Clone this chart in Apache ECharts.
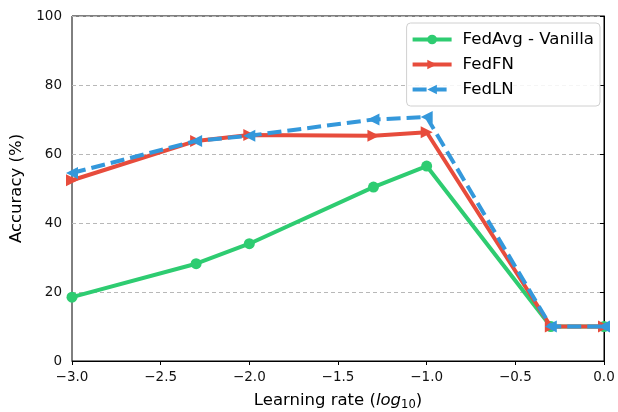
<!DOCTYPE html>
<html>
<head>
<meta charset="utf-8">
<script src="https://cdn.jsdelivr.net/npm/echarts@6/dist/echarts.min.js"></script>
<style>
  html, body { margin: 0; padding: 0; background: #fff; }
  #chart { width: 618px; height: 412px; }
</style>
</head>
<body>
<div id="chart"></div>
<script>
// Learning rates on a log10 scale
const lrLog10 = [-3.0, -2.3, -2.0, -1.3, -1.0, -0.3, 0.0];

// Accuracy (%) per method
const fedAvgVanilla = [18.5, 28.2, 34.0, 50.4, 56.5, 10.0, 10.0];
const fedFN = [52.4, 63.8, 65.5, 65.3, 66.3, 10.0, 10.0];
const fedLN = [54.5, 63.8, 65.3, 70.0, 70.7, 10.0, 10.0];

const seriesNames = ['FedAvg - Vanilla', 'FedFN', 'FedLN'];
const xTicks = [-3.0, -2.5, -2.0, -1.5, -1.0, -0.5, 0.0];
const yTicks = [0, 20, 40, 60, 80, 100];

const font = 'DejaVu Sans';
const pairs = (ys) => lrLog10.map((x, i) => [x, ys[i]]);
const fmtX = (v) => v.toFixed(1).replace('-', '\u2212');

const chart = echarts.init(document.getElementById('chart'), null, { renderer: 'canvas' });
chart.setOption({
  animation: false,
  backgroundColor: '#fff',
  textStyle: { fontFamily: font },
  grid: {
    left: 72, right: 14, top: 16, bottom: 51,
    outerBoundsMode: 'none', containLabel: false,
    show: true, borderColor: '#000', borderWidth: 1, backgroundColor: 'transparent'
  },
  legend: {
    data: seriesNames,
    orient: 'vertical',
    right: 18, top: 23,
    itemWidth: 39, itemHeight: 12, itemGap: 8,
    padding: [8, 6, 8, 4],
    borderColor: '#d0d0d0', borderWidth: 1, borderRadius: 4,
    backgroundColor: 'rgba(255,255,255,0.85)',
    lineStyle: { width: 4 },
    textStyle: { fontFamily: font, fontSize: 16.6, color: '#000', padding: [0, 0, 0, 6] }
  },
  xAxis: {
    type: 'value',
    min: xTicks[0], max: xTicks[xTicks.length - 1], interval: 0.5,
    name: '{n|Learning rate (}{i|log}{s|10}{n|)}',
    nameLocation: 'middle', nameGap: 30,
    nameTextStyle: {
      rich: {
        n: { fontFamily: font, fontSize: 16.5, color: '#000' },
        i: { fontFamily: font, fontSize: 16.5, fontStyle: 'italic', color: '#000' },
        s: { fontFamily: font, fontSize: 11.5, color: '#000', verticalAlign: 'bottom', padding: [8, 0, 0, 0] }
      }
    },
    axisLine: { lineStyle: { color: '#000', width: 1 } },
    axisTick: { show: true, length: 4, inside: false, lineStyle: { color: '#000' } },
    axisLabel: { formatter: fmtX, fontFamily: font, fontSize: 13.5, color: '#111', margin: 9 },
    splitLine: { show: false }
  },
  yAxis: {
    type: 'value',
    min: yTicks[0], max: yTicks[yTicks.length - 1], interval: 20,
    name: 'Accuracy (%)',
    nameLocation: 'middle', nameGap: 44,
    nameTextStyle: { fontFamily: font, fontSize: 16.5, color: '#000' },
    axisLine: { show: true, lineStyle: { color: '#000', width: 1 } },
    axisTick: { show: true, length: 4, lineStyle: { color: '#000' } },
    axisLabel: { fontFamily: font, fontSize: 13.5, color: '#111', margin: 10 },
    splitLine: { show: true, lineStyle: { color: '#b8b8b8', type: [4, 3], width: 1 } }
  },
  series: [
    {
      name: seriesNames[0], type: 'line', data: pairs(fedAvgVanilla),
      symbol: 'circle', symbolSize: 11,
      lineStyle: { color: '#2ecc71', width: 4 },
      itemStyle: { color: '#2ecc71' }, z: 2
    },
    {
      name: seriesNames[1], type: 'line', data: pairs(fedFN),
      symbol: 'triangle', symbolSize: 12, symbolRotate: -90,
      lineStyle: { color: '#e74c3c', width: 4 },
      itemStyle: { color: '#e74c3c' }, z: 3
    },
    {
      name: seriesNames[2], type: 'line', data: pairs(fedLN),
      symbol: 'triangle', symbolSize: 12, symbolRotate: 90,
      lineStyle: { color: '#3498db', width: 4, type: [14, 6] },
      itemStyle: { color: '#3498db' }, z: 4
    }
  ]
});
</script>
</body>
</html>
